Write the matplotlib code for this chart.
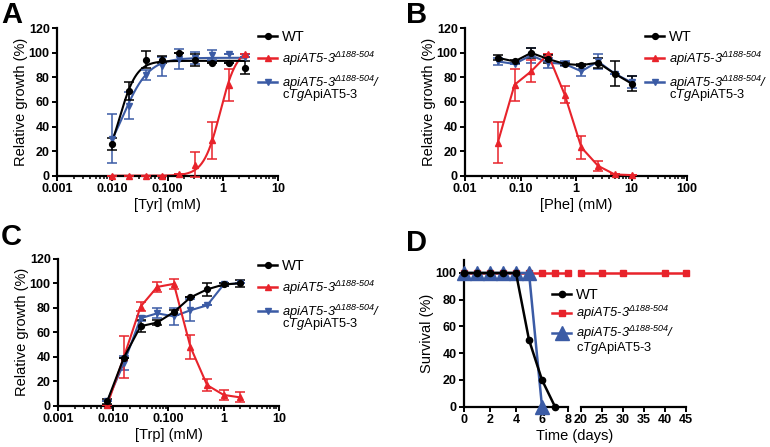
import numpy as np
import matplotlib
matplotlib.use("Agg")
import matplotlib.pyplot as plt
from matplotlib.lines import Line2D
from matplotlib.ticker import FixedLocator, LogLocator, NullFormatter
from matplotlib.legend_handler import HandlerLine2D

plt.rcParams.update({
    "font.family": ["Liberation Sans", "DejaVu Sans"],
    "mathtext.fontset": "custom",
    "mathtext.rm": "Liberation Sans:italic",
    "mathtext.it": "Liberation Sans:italic",
    "mathtext.bf": "Liberation Sans:bold",
    "axes.linewidth": 1.6,
})

BLACK = "#000000"
RED = "#e8232b"
BLUE = "#3b5ba5"

# ---------------- data ----------------
# Panel A: Tyr
A_x = [0.01, 0.02, 0.04, 0.08, 0.16, 0.32, 0.64, 1.28, 2.5]
A_wt = [26, 69, 94.5, 94.5, 100, 94, 91.5, 91.5, 88]
A_wt_err = [5, 7, 7, 3, 0, 5, 0, 0, 5.5]
A_ko = [0, 0, 0, 0, 1, 9, 29, 74, 99]
A_ko_err = [0, 0, 0, 0, 0, 10, 15, 13, 0]
A_comp = [30, 57, 82, 89, 95, 96, 98, 99, 97]
A_comp_err = [20, 11, 4, 8, 8, 5, 4, 0, 0]
# Hill fit parameters: (top, EC50, hill slope)
A_wt_fit = (93.5, 0.0135, 2.8)
A_ko_fit = (104, 0.9, 2.9)
A_comp_fit = (96, 0.0154, 1.84)

# Panel B: Phe
B_x = [0.039, 0.078, 0.156, 0.3125, 0.625, 1.25, 2.5, 5, 10]
B_wt = [96, 93, 100, 95, 91, 90, 92, 83, 75]
B_wt_err = [2, 1, 4, 3, 1, 1, 4, 10, 6]
B_ko = [27, 74, 85, 99, 66, 23, 8, 1, 0.5]
B_ko_err = [17, 13, 9, 0, 7, 9, 4, 0, 0]
B_comp = [93, 91, 98, 92, 91, 85, 93, 83, 76]
B_comp_err = [3, 0, 6, 4, 2, 4, 6, 0, 5]

# Panel C: Trp
C_x = [0.0078, 0.0156, 0.03125, 0.0625, 0.125, 0.25, 0.5, 1, 2]
C_wt = [4, 39.5, 65, 68, 76.5, 88.5, 95, 99, 100]
C_wt_err = [2, 0, 5, 2, 2, 0, 5, 1, 3]
C_ko = [1, 40, 81, 97, 99.5, 48, 17, 9, 7]
C_ko_err = [0, 17, 4, 4, 4, 10, 5, 4, 4]
C_comp = [4, 35, 71.5, 75.5, 73, 78, 82, 99, 100]
C_comp_err = [0, 6, 2, 4, 7, 9, 0, 1, 0]

# Panel D: survival
D_wt_days = [0, 1, 2, 3, 4, 5, 6, 7]
D_wt = [100, 100, 100, 100, 100, 50, 20, 0]
D_ko_days = [0, 1, 2, 3, 4, 5, 6, 7, 8, 20, 25, 30, 40, 45]
D_ko = [100] * 14
D_comp_days = [0, 1, 2, 3, 4, 5, 6]
D_comp = [100, 100, 100, 100, 100, 100, 0]

A_ticklabels = ["0.001", "0.010", "0.100", "1", "10"]
B_ticklabels = ["0.01", "0.10", "1", "10", "100"]
C_ticklabels = ["0.001", "0.010", "0.100", "1", "10"]

LBL_WT = "WT"
LBL_KO = r"$apiAT5\text{-}3^{\Delta188\text{-}504}$"
LBL_COMP = (r"$apiAT5\text{-}3^{\Delta188\text{-}504}/$"
            "\n" r"c$Tg$ApiAT5-3")

LEG_FS = 9.3


def hill(x, top, ec50, h):
    x = np.asarray(x, dtype=float)
    return top / (1.0 + (ec50 / x) ** h)


class UpHandler(HandlerLine2D):
    """Place the handle at the level of the first text line."""
    def __init__(self, shift, **kw):
        super().__init__(**kw)
        self.shift = shift

    def create_artists(self, legend, orig_handle, xdescent, ydescent,
                       width, height, fontsize, trans):
        arts = super().create_artists(legend, orig_handle, xdescent, ydescent,
                                      width, height, fontsize, trans)
        for a in arts:
            a.set_ydata(np.asarray(a.get_ydata(), dtype=float) + self.shift * fontsize)
        return arts


W, H = 770, 447
fig = plt.figure(figsize=(7.7, 4.47), dpi=100)


def px_axes(x0, x1, ytop, ybot):
    return fig.add_axes([x0 / W, (H - ybot) / H, (x1 - x0) / W, (ybot - ytop) / H])


def style(ax):
    ax.spines["top"].set_visible(False)
    ax.spines["right"].set_visible(False)
    ax.tick_params(which="major", direction="out", length=3.8, width=1.4,
                   labelsize=9, pad=1.5)
    ax.tick_params(which="minor", direction="out", length=2.4, width=1.1)


def log_panel(ax, xlim, ticks, ticklabels, xlabel):
    ax.set_xscale("log")
    ax.set_xlim(*xlim)
    ax.set_ylim(0, 120)
    ax.set_xticks(ticks, ticklabels, fontweight="bold")
    ax.xaxis.set_minor_locator(LogLocator(base=10, subs=np.arange(2, 10)))
    ax.xaxis.set_minor_formatter(NullFormatter())
    ax.set_yticks(np.arange(0, 121, 20), [str(v) for v in range(0, 121, 20)],
                  fontweight="bold")
    style(ax)
    ax.set_xlabel(xlabel, fontsize=10.5, labelpad=2)
    ax.set_ylabel("Relative growth (%)", fontsize=10.5, labelpad=0.5)


def eb(ax, x, y, err, color, marker, ms=4.2, lw=1.5):
    ax.errorbar(x, y, yerr=err, color=color, marker=marker, ms=ms, lw=lw,
                elinewidth=1.1, capsize=3.5, capthick=1.1, clip_on=False,
                zorder=3)


def make_legend(handles, xpx, ytop, spacing=0.45, linesp=0.5, shift=0.5):
    leg = fig.legend(handles, [LBL_WT, LBL_KO, LBL_COMP], loc="upper left",
                     bbox_to_anchor=(xpx / W, (H - ytop) / H),
                     bbox_transform=fig.transFigure, frameon=False,
                     borderpad=0, borderaxespad=0, handlelength=1.5,
                     handletextpad=0.35, labelspacing=spacing, fontsize=LEG_FS,
                     handler_map={handles[2]: UpHandler(shift, numpoints=1)},
                     numpoints=1)
    leg.get_texts()[0].set_fontsize(10.5)
    leg.get_texts()[2].set_linespacing(linesp)
    return leg


def growth_handles():
    return [Line2D([], [], color=BLACK, marker="o", ms=4.2, lw=1.8),
            Line2D([], [], color=RED, marker="^", ms=4.2, lw=1.8),
            Line2D([], [], color=BLUE, marker="v", ms=4.2, lw=1.8)]


# ---------------- Panel A ----------------
axA = px_axes(57, 278, 28.3, 175.7)
xf = np.geomspace(A_x[0], A_x[-1], 300)
axA.plot(xf, hill(xf, *A_comp_fit), color=BLUE, lw=1.5, zorder=2)
axA.plot(xf, hill(xf, *A_ko_fit), color=RED, lw=1.5, zorder=2)
axA.plot(xf, hill(xf, *A_wt_fit), color=BLACK, lw=1.5, zorder=2)
eb(axA, A_x, A_comp, A_comp_err, BLUE, "v", lw=0)
eb(axA, A_x, A_ko, A_ko_err, RED, "^", lw=0)
eb(axA, A_x, A_wt, A_wt_err, BLACK, "o", lw=0)
log_panel(axA, (0.001, 10), [0.001, 0.01, 0.1, 1, 10], A_ticklabels, "[Tyr] (mM)")
make_legend(growth_handles(), 258, 30)

# ---------------- Panel B ----------------
axB = px_axes(465, 687, 28.3, 175.7)
eb(axB, B_x, B_comp, B_comp_err, BLUE, "v")
eb(axB, B_x, B_ko, B_ko_err, RED, "^")
eb(axB, B_x, B_wt, B_wt_err, BLACK, "o")
log_panel(axB, (0.01, 100), [0.01, 0.1, 1, 10, 100], B_ticklabels, "[Phe] (mM)")
make_legend(growth_handles(), 645, 30)

# ---------------- Panel C ----------------
axC = px_axes(58, 279, 258.7, 406)
eb(axC, C_x, C_comp, C_comp_err, BLUE, "v")
eb(axC, C_x, C_ko, C_ko_err, RED, "^")
eb(axC, C_x, C_wt, C_wt_err, BLACK, "o")
log_panel(axC, (0.001, 10), [0.001, 0.01, 0.1, 1, 10], C_ticklabels, "[Trp] (mM)")
make_legend(growth_handles(), 258, 259)

# ---------------- Panel D ----------------
axDL = px_axes(464, 568, 259.6, 406.7)
axDR = px_axes(581, 686, 259.6, 406.7)
for ax, lo, hi in ((axDL, 0, 8), (axDR, 20, 45)):
    ax.set_xlim(lo, hi)
    ax.set_ylim(0, 110)
    style(ax)

    def sel(d, v):
        return ([a for a in d if lo <= a <= hi],
                [b for a, b in zip(d, v) if lo <= a <= hi])
    xs, ys = sel(D_ko_days, D_ko)
    ax.plot(xs, ys, color=RED, marker="s", ms=5, lw=1.8, clip_on=False, zorder=3)
    xs, ys = sel(D_comp_days, D_comp)
    if xs:
        ax.plot(xs, ys, color=BLUE, marker="^", ms=10, lw=1.8, clip_on=False, zorder=4)
    xs, ys = sel(D_wt_days, D_wt)
    if xs:
        ax.plot(xs, ys, color=BLACK, marker="o", ms=4.5, lw=1.8, clip_on=False, zorder=5)

axDL.set_xticks([0, 2, 4, 6, 8], ["0", "2", "4", "6", "8"], fontweight="bold")
axDL.set_yticks(np.arange(0, 101, 20), [str(v) for v in range(0, 101, 20)],
                fontweight="bold")
axDL.xaxis.set_minor_locator(FixedLocator([8]))
axDL.tick_params(axis="x", which="minor", direction="inout", length=7, width=1.4)
axDL.tick_params(axis="y", which="minor", left=False)
axDL.set_ylabel("Survival (%)", fontsize=10.5, labelpad=1)

axDR.spines["left"].set_visible(False)
axDR.tick_params(axis="y", which="both", left=False, labelleft=False)
axDR.set_xticks([20, 25, 30, 35, 40, 45], ["20", "25", "30", "35", "40", "45"],
                fontweight="bold")
axDR.xaxis.set_minor_locator(FixedLocator([20]))
axDR.tick_params(axis="x", which="minor", direction="inout", length=7, width=1.4)

fig.text(575 / W, (H - 436) / H, "Time (days)", fontsize=10.5, ha="center", va="center")

hD = [Line2D([], [], color=BLACK, marker="o", ms=4.5, lw=1.8),
      Line2D([], [], color=RED, marker="s", ms=5, lw=1.8),
      Line2D([], [], color=BLUE, marker="^", ms=10, lw=1.8)]
make_legend(hD, 552, 288, spacing=0.15, linesp=0.75, shift=0.5)

# panel letters
for letter, xp, yp in (("A", 1, 1), ("B", 406, 1), ("C", 1, 223), ("D", 406, 229)):
    fig.text(xp / W, (H - yp) / H, letter, fontsize=21, fontweight="bold",
             ha="left", va="top")

fig.savefig("out.png", dpi=100)
